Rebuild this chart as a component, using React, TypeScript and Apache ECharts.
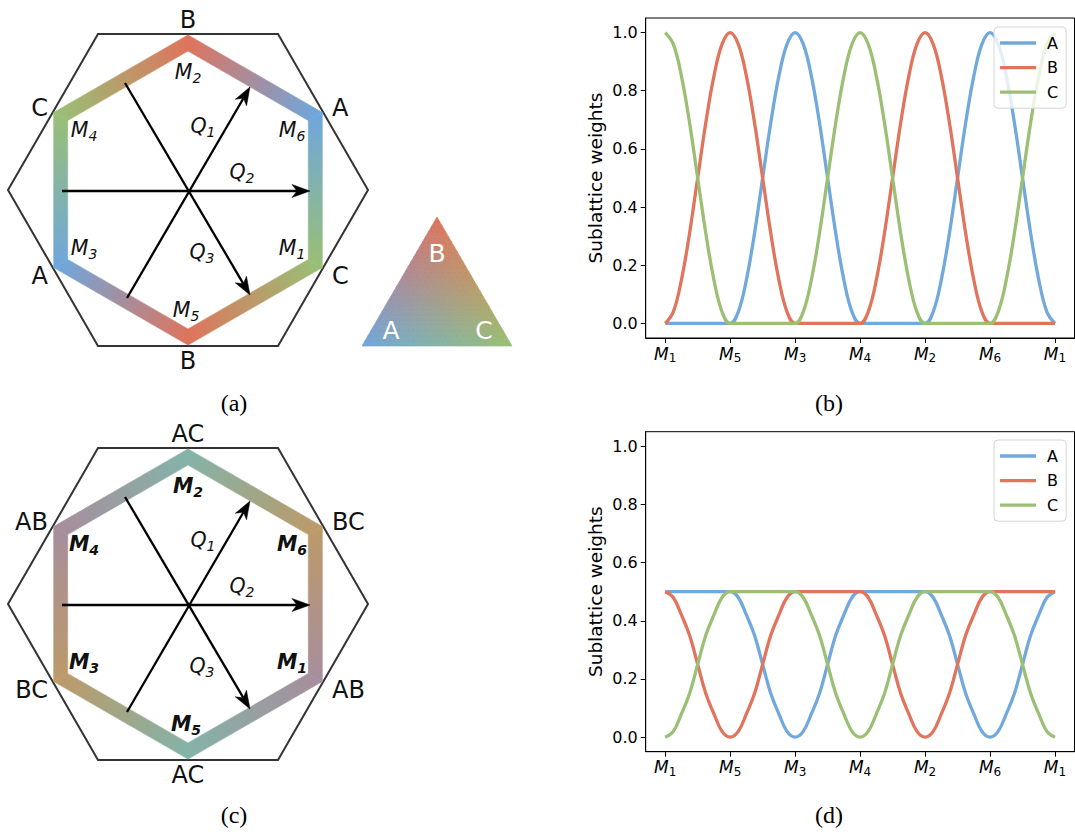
import React, { useEffect, useRef } from "react";
import * as echarts from "echarts";

// ---------- data ----------
const xs = [
  0, 0.125, 0.25, 0.375, 0.5, 0.625, 0.75, 0.875,
  1, 1.125, 1.25, 1.375, 1.5, 1.625, 1.75, 1.875,
  2, 2.125, 2.25, 2.375, 2.5, 2.625, 2.75, 2.875,
  3, 3.125, 3.25, 3.375, 3.5, 3.625, 3.75, 3.875,
  4, 4.125, 4.25, 4.375, 4.5, 4.625, 4.75, 4.875,
  5, 5.125, 5.25, 5.375, 5.5, 5.625, 5.75, 5.875,
  6,
];
const xTickValues = [0, 1, 2, 3, 4, 5, 6];
const xTickSubscripts = ["1", "5", "3", "4", "2", "6", "1"];
const yTickValues = [0, 0.2, 0.4, 0.6, 0.8, 1.0];
const seriesNames = ["A", "B", "C"];

const weightA_b = [
  0, 0, 0, 0, 0, 0, 0, 0,
  0, 0.04, 0.15, 0.31, 0.5, 0.69, 0.85, 0.96,
  1, 0.96, 0.85, 0.69, 0.5, 0.31, 0.15, 0.04,
  0, 0, 0, 0, 0, 0, 0, 0,
  0, 0.04, 0.15, 0.31, 0.5, 0.69, 0.85, 0.96,
  1, 0.96, 0.85, 0.69, 0.5, 0.31, 0.15, 0.04,
  0,
];
const weightB_b = [
  0, 0.04, 0.15, 0.31, 0.5, 0.69, 0.85, 0.96,
  1, 0.96, 0.85, 0.69, 0.5, 0.31, 0.15, 0.04,
  0, 0, 0, 0, 0, 0, 0, 0,
  0, 0.04, 0.15, 0.31, 0.5, 0.69, 0.85, 0.96,
  1, 0.96, 0.85, 0.69, 0.5, 0.31, 0.15, 0.04,
  0, 0, 0, 0, 0, 0, 0, 0,
  0,
];
const weightC_b = [
  1, 0.96, 0.85, 0.69, 0.5, 0.31, 0.15, 0.04,
  0, 0, 0, 0, 0, 0, 0, 0,
  0, 0.04, 0.15, 0.31, 0.5, 0.69, 0.85, 0.96,
  1, 0.96, 0.85, 0.69, 0.5, 0.31, 0.15, 0.04,
  0, 0, 0, 0, 0, 0, 0, 0,
  0, 0.04, 0.15, 0.31, 0.5, 0.69, 0.85, 0.96,
  1,
];
const weightA_d = [
  0.5, 0.5, 0.5, 0.5, 0.5, 0.5, 0.5, 0.5,
  0.5, 0.48, 0.42, 0.35, 0.25, 0.15, 0.08, 0.02,
  0, 0.02, 0.08, 0.15, 0.25, 0.35, 0.42, 0.48,
  0.5, 0.5, 0.5, 0.5, 0.5, 0.5, 0.5, 0.5,
  0.5, 0.48, 0.42, 0.35, 0.25, 0.15, 0.08, 0.02,
  0, 0.02, 0.08, 0.15, 0.25, 0.35, 0.42, 0.48,
  0.5,
];
const weightB_d = [
  0.5, 0.48, 0.42, 0.35, 0.25, 0.15, 0.08, 0.02,
  0, 0.02, 0.08, 0.15, 0.25, 0.35, 0.42, 0.48,
  0.5, 0.5, 0.5, 0.5, 0.5, 0.5, 0.5, 0.5,
  0.5, 0.48, 0.42, 0.35, 0.25, 0.15, 0.08, 0.02,
  0, 0.02, 0.08, 0.15, 0.25, 0.35, 0.42, 0.48,
  0.5, 0.5, 0.5, 0.5, 0.5, 0.5, 0.5, 0.5,
  0.5,
];
const weightC_d = [
  0, 0.02, 0.08, 0.15, 0.25, 0.35, 0.42, 0.48,
  0.5, 0.5, 0.5, 0.5, 0.5, 0.5, 0.5, 0.5,
  0.5, 0.48, 0.42, 0.35, 0.25, 0.15, 0.08, 0.02,
  0, 0.02, 0.08, 0.15, 0.25, 0.35, 0.42, 0.48,
  0.5, 0.5, 0.5, 0.5, 0.5, 0.5, 0.5, 0.5,
  0.5, 0.48, 0.42, 0.35, 0.25, 0.15, 0.08, 0.02,
  0,
];

// hexagon labels, vertices ordered at angles 90, 30, -30, -90, -150, 150 deg
const vertexLabelsA = ["B", "A", "C", "B", "A", "C"];
const vertexLabelsC = ["AC", "BC", "AB", "AC", "BC", "AB"];
const mSubscripts = ["2", "6", "1", "5", "3", "4"];
const panelLabels = ["(a)", "(b)", "(c)", "(d)"];

// ---------- styles ----------
const COL_A = [111, 167, 220];
const COL_B = [222, 116, 93];
const COL_C = [153, 191, 117];
const LINE_COLORS = ["#72a9dd", "#e0745d", "#9bc075"];
const FONT = "DejaVu Sans";

function mix(ws: number[], cols: number[][]) {
  const c = [0, 1, 2].map((k) => Math.round(ws.reduce((s, w, i) => s + w * cols[i][k], 0)));
  return `rgb(${c[0]},${c[1]},${c[2]})`;
}
const letterColor: Record<string, string> = {
  A: mix([1], [COL_A]),
  B: mix([1], [COL_B]),
  C: mix([1], [COL_C]),
  AB: mix([0.5, 0.5], [COL_A, COL_B]),
  AC: mix([0.5, 0.5], [COL_A, COL_C]),
  BC: mix([0.5, 0.5], [COL_B, COL_C]),
};

const ANG = [90, 30, -30, -90, -150, 150].map((d) => (d * Math.PI) / 180);

function hexPanel(cx: number, cy: number, labels: string[], bold: boolean) {
  const els: any[] = [];
  const outer: number[][] = [];
  for (let i = 0; i < 6; i++) {
    const a = (i * 60 * Math.PI) / 180;
    outer.push([cx + 180 * Math.cos(a), cy - 180 * Math.sin(a)]);
  }
  els.push({
    type: "polygon",
    shape: { points: outer },
    style: { fill: "none", stroke: "#333", lineWidth: 2 },
    z: 1,
  });
  const R = 147;
  const d = 7 / Math.cos(Math.PI / 6);
  const P = (r: number, i: number) => [cx + r * Math.cos(ANG[i % 6]), cy - r * Math.sin(ANG[i % 6])];
  for (let i = 0; i < 6; i++) {
    const c0 = P(R, i);
    const c1 = P(R, i + 1);
    const grad = new echarts.graphic.LinearGradient(
      c0[0], c0[1], c1[0], c1[1],
      [
        { offset: 0, color: letterColor[labels[i]] },
        { offset: 1, color: letterColor[labels[(i + 1) % 6]] },
      ],
      true
    );
    els.push({
      type: "polygon",
      shape: { points: [P(R + d, i), P(R + d, i + 1), P(R - d, i + 1), P(R - d, i)] },
      style: { fill: grad, stroke: grad, lineWidth: 0.6 },
      z: 2,
    });
  }
  const arrow = (x1: number, y1: number, x2: number, y2: number) => {
    const dx = x2 - x1, dy = y2 - y1, len = Math.hypot(dx, dy);
    const ux = dx / len, uy = dy / len, px = -uy, py = ux;
    const L = 18, W = 6.5, N = 5;
    els.push({
      type: "line",
      shape: { x1, y1, x2: x2 - ux * (L - N), y2: y2 - uy * (L - N) },
      style: { stroke: "#000", lineWidth: 2.3 },
      z: 3,
    });
    const bx = x2 - ux * L, by = y2 - uy * L;
    els.push({
      type: "polygon",
      shape: {
        points: [
          [x2, y2],
          [bx + px * W, by + py * W],
          [x2 - ux * (L - N), y2 - uy * (L - N)],
          [bx - px * W, by - py * W],
        ],
      },
      style: { fill: "#000", stroke: "#000", lineWidth: 0.5 },
      z: 3,
    });
  };
  arrow(62, cy + 1, 310, cy + 1);
  arrow(127, cy + 108, 250, cy - 103);
  arrow(125, cy - 107, 250, cy + 105);

  const txt = (text: string, x: number, y: number, align: string) =>
    els.push({
      type: "text",
      style: { text, x, y, fill: "#111", fontSize: 24, fontFamily: FONT, align, verticalAlign: "middle" },
      z: 4,
    });
  txt(labels[0], cx, cy - 170, "center");
  txt(labels[1], cx + 144, cy - 82, "left");
  txt(labels[2], cx + 144, cy + 86, "left");
  txt(labels[3], cx, cy + 171, "center");
  txt(labels[4], cx - 140, cy + 86, "right");
  txt(labels[5], cx - 140, cy - 82, "right");

  const mPos = [
    [0, -118], [104, -60], [104, 58], [-2, 120], [-104, 58], [-104, -60],
  ];
  const rich = (w: string) => ({
    m: { fontSize: 20.5, fontStyle: "italic", fontWeight: w, fontFamily: FONT, fill: "#111" },
    s: { fontSize: 14, fontStyle: "italic", fontWeight: w, fontFamily: FONT, fill: "#111", padding: [11, 0, 0, 0] },
  });
  for (let i = 0; i < 6; i++) {
    els.push({
      type: "text",
      style: {
        text: `{m|M}{s|${mSubscripts[i]}}`,
        x: cx + mPos[i][0],
        y: cy + mPos[i][1],
        align: "center",
        verticalAlign: "middle",
        rich: rich(bold ? "bold" : "normal"),
      },
      z: 4,
    });
  }
  const qPos = [
    [15, -64, "1"], [54, -18, "2"], [14, 62, "3"],
  ];
  for (const q of qPos) {
    els.push({
      type: "text",
      style: {
        text: `{m|Q}{s|${q[2]}}`,
        x: cx + (q[0] as number),
        y: cy + (q[1] as number),
        align: "center",
        verticalAlign: "middle",
        rich: rich("normal"),
      },
      z: 4,
    });
  }
  return els;
}

function ternaryTriangle() {
  const els: any[] = [];
  const T = [437, 217], Lf = [362, 346], Rt = [512, 346];
  const N = 26;
  const pt = (a: number, b: number) => [
    Lf[0] + (a / N) * (Rt[0] - Lf[0]) + (b / N) * (T[0] - Lf[0]),
    Lf[1] + (a / N) * (Rt[1] - Lf[1]) + (b / N) * (T[1] - Lf[1]),
  ];
  const col = (a: number, b: number) => {
    const wc = a / N, wb = b / N, wa = 1 - wc - wb;
    return mix([wa, wb, wc], [COL_A, COL_B, COL_C]);
  };
  for (let a = 0; a < N; a++) {
    for (let b = 0; a + b < N; b++) {
      const c = col(a + 1 / 3, b + 1 / 3);
      els.push({
        type: "polygon",
        shape: { points: [pt(a, b), pt(a + 1, b), pt(a, b + 1)] },
        style: { fill: c, stroke: c, lineWidth: 0.7 },
        z: 1,
      });
      if (a + b < N - 1) {
        const c2 = col(a + 2 / 3, b + 2 / 3);
        els.push({
          type: "polygon",
          shape: { points: [pt(a + 1, b), pt(a + 1, b + 1), pt(a, b + 1)] },
          style: { fill: c2, stroke: c2, lineWidth: 0.7 },
          z: 1,
        });
      }
    }
  }
  const wt = (text: string, x: number, y: number) =>
    els.push({
      type: "text",
      style: { text, x, y, fill: "#fff", fontSize: 25, fontFamily: FONT, align: "center", verticalAlign: "middle" },
      z: 2,
    });
  wt("B", 437, 253);
  wt("A", 391, 330);
  wt("C", 484, 330);
  return els;
}

export default function App() {
  const ref = useRef<HTMLDivElement>(null);
  useEffect(() => {
    if (!ref.current) return;
    const chart = echarts.init(ref.current, undefined, { renderer: "svg" });

    const gridsTop = [18, 431.7];
    const weights = [
      [weightA_b, weightB_b, weightC_b],
      [weightA_d, weightB_d, weightC_d],
    ];

    const xAxes = gridsTop.map((_, gi) => ({
      type: "value",
      gridIndex: gi,
      min: -0.3,
      max: 6.3,
      axisLine: { show: true, onZero: false, lineStyle: { color: "#000", width: 1 } },
      axisTick: { show: true, length: 5, customValues: xTickValues, lineStyle: { color: "#000", width: 1 } },
      splitLine: { show: false },
      axisLabel: {
        margin: 5,
        customValues: xTickValues,
        formatter: (v: number) => `{m|M}{s|${xTickSubscripts[Math.round(v)]}}`,
        rich: {
          m: { fontSize: 17, fontStyle: "italic", fontFamily: FONT, color: "#000" },
          s: { fontSize: 12, fontFamily: FONT, color: "#000", padding: [9, 0, 0, 0] },
        },
      },
    }));
    const yAxes = gridsTop.map((_, gi) => ({
      type: "value",
      gridIndex: gi,
      min: -0.05,
      max: 1.05,
      name: "Sublattice weights",
      nameLocation: "middle",
      nameGap: 41,
      nameTextStyle: { fontSize: 18.5, fontFamily: FONT, color: "#000" },
      axisLine: { show: true, onZero: false, lineStyle: { color: "#000", width: 1 } },
      axisTick: { show: true, length: 5, customValues: yTickValues, lineStyle: { color: "#000", width: 1 } },
      splitLine: { show: false },
      axisLabel: {
        margin: 8,
        fontSize: 16,
        fontFamily: FONT,
        color: "#000",
        customValues: yTickValues,
        formatter: (v: number) => v.toFixed(1),
      },
    }));

    const series: any[] = [];
    weights.forEach((set, gi) => {
      set.forEach((arr, si) => {
        series.push({
          type: "line",
          name: seriesNames[si],
          xAxisIndex: gi,
          yAxisIndex: gi,
          data: xs.map((x, i) => [x, arr[i]]),
          symbol: "none",
          showSymbol: false,
          smooth: 0.4,
          lineStyle: { width: 3.3, color: LINE_COLORS[si] },
          itemStyle: { color: LINE_COLORS[si] },
          z: 2 + si,
        });
      });
    });

    const legends = gridsTop.map((_, gi) => ({
      data: seriesNames.map((n) => ({ name: n, icon: "rect" })),
      orient: "vertical",
      left: 994,
      top: gi === 0 ? 27 : 440,
      itemWidth: 36,
      itemHeight: 3.3,
      itemGap: 8.6,
      padding: [8, 8, 8, 6],
      backgroundColor: "rgba(255,255,255,0.8)",
      borderColor: "#d6d6d6",
      borderWidth: 1,
      borderRadius: 4,
      selectedMode: false,
      textStyle: { fontSize: 16, lineHeight: 16, fontFamily: FONT, color: "#000", padding: [0, 0, 0, 6] },
      z: 10,
    }));

    const subLabelPos = [
      [234, 403], [829, 403], [234, 815], [829, 815],
    ];
    const subLabels = panelLabels.map((t, i) => ({
      type: "text",
      style: {
        text: t,
        x: subLabelPos[i][0],
        y: subLabelPos[i][1],
        fill: "#000",
        fontSize: 24,
        fontFamily: "Liberation Serif",
        align: "center",
        verticalAlign: "middle",
      },
    }));

    chart.setOption({
      animation: false,
      backgroundColor: "#fff",
      grid: gridsTop.map((t) => ({
        left: 645.7,
        top: t,
        width: 428.8,
        height: 320,
        show: true,
        borderColor: "#000",
        borderWidth: 1,
        backgroundColor: "transparent",
      })),
      xAxis: xAxes,
      yAxis: yAxes,
      legend: legends,
      series,
      graphic: [
        ...hexPanel(188, 190, vertexLabelsA, false),
        ...hexPanel(188, 604, vertexLabelsC, true),
        ...ternaryTriangle(),
        ...subLabels,
      ],
    });
    return () => chart.dispose();
  }, []);
  return (
    <div
      ref={ref}
      style={{ position: "fixed", left: 0, top: 0, width: 1075, height: 832, background: "#fff" }}
    />
  );
}
